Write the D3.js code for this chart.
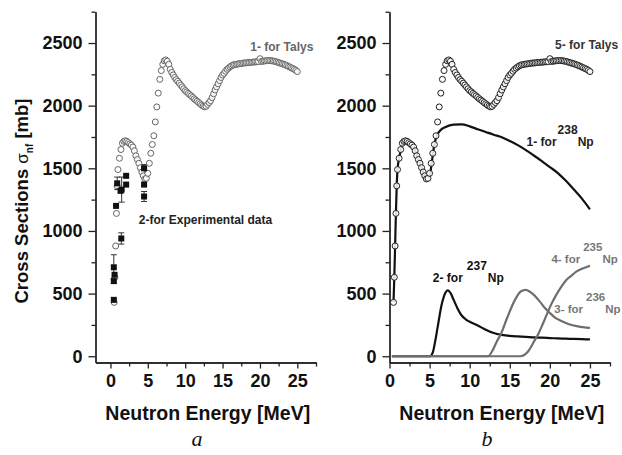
<!DOCTYPE html>
<html><head><meta charset="utf-8">
<script src="https://cdn.jsdelivr.net/npm/d3@7"></script>
<style>body{margin:0;background:#fff}svg{display:block}</style>
</head><body><svg id="c" width="622" height="455"></svg>
<script>
// ---- data ----
const talysE = [
 0.5,0.6,0.7,0.8,0.9,
 1.0,1.2,1.4,1.6,1.8, 2.0,2.2,2.4,2.6,2.8, 3.0,3.2,3.4,3.6,3.8, 4.0,4.2,4.4,4.6,4.8,
 5.0,5.2,5.4,5.6,5.8, 6.0,6.2,6.4,6.6,6.8, 7.0,7.2,7.4,7.6,7.8, 8.0,8.2,8.4,8.6,8.8,
 9.0,9.2,9.4,9.6,9.8, 10.0,10.2,10.4,10.6,10.8, 11.0,11.2,11.4,11.6,11.8, 12.0,12.2,12.4,12.6,12.8,
 13.0,13.2,13.4,13.6,13.8, 14.0,14.2,14.4,14.6,14.8, 15.0,15.2,15.4,15.6,15.8, 16.0,16.2,16.4,16.6,16.8,
 17.0,17.2,17.4,17.6,17.8, 18.0,18.2,18.4,18.6,18.8, 19.0,19.2,19.4,19.6,19.8, 20.0,20.2,20.4,20.6,20.8,
 21.0,21.2,21.4,21.6,21.8, 22.0,22.2,22.4,22.6,22.8, 23.0,23.2,23.4,23.6,23.8, 24.0,24.2,24.4,24.6,24.8,
 25.0];
const talysSigma = [
 430,630,880,1140,1360,
 1490,1580,1650,1700,1715, 1720,1715,1705,1695,1685, 1670,1640,1600,1570,1540, 1505,1470,1440,1415,1420,
 1460,1540,1620,1690,1760, 1870,1990,2100,2210,2280, 2330,2358,2365,2355,2330, 2290,2265,2245,2225,2208,
 2195,2180,2165,2150,2135, 2120,2110,2098,2088,2078, 2066,2055,2045,2035,2025, 2015,2005,1996,1990,1995,
 2010,2025,2040,2065,2095, 2125,2150,2175,2200,2225, 2245,2258,2275,2290,2300, 2310,2318,2324,2328,2330,
 2332,2334,2336,2338,2340, 2341,2342,2344,2345,2346, 2347,2348,2350,2350,2352, 2375,2352,2355,2357,2358,
 2360,2360,2360,2358,2356, 2354,2350,2346,2342,2338, 2334,2330,2325,2320,2314, 2308,2302,2296,2290,2282,
 2272];

const expE     = [0.45,0.45,0.45,0.55,0.75,0.9,1.35,1.5,1.45,2.1,2.1,4.5,4.5,4.5];
const expSigma = [450,600,710,650,1200,1380,1320,1330,940,1440,1370,1500,1370,1275];
const expErr   = [0,20,100,0,0,50,0,100,45,0,0,30,0,40];

const np238E = [0.5,0.6,0.7,0.8,0.9,1.0,1.2,1.5,2.0,2.5,3.0,3.5,4.0,4.5,5.0,5.3,5.6,5.9,6.3,7.0,8.0,9.0,10,11,12,13,14,15,16,17,18,19,20,21,22,23,24,25];
const np238S = [430,630,880,1140,1360,1490,1580,1665,1715,1700,1670,1585,1505,1425,1440,1560,1690,1760,1800,1830,1848,1850,1835,1812,1790,1768,1748,1718,1685,1645,1602,1558,1510,1462,1400,1330,1258,1172];

const np237E = [0.3,5.06,5.4,5.7,6.0,6.5,7.0,7.3,7.6,8.0,8.5,9.0,9.5,10,11,12,13,14,15,16,17,18,19,20,21,22,23,24,25];
const np237S = [0,0,30,120,230,410,510,525,505,450,380,325,295,275,245,212,185,170,162,158,155,150,148,145,142,140,138,136,134];

const np236E = [0.3,12.3,12.8,13.4,13.9,14.7,15.6,16.4,17.0,17.5,18.1,18.7,19.3,20.0,20.6,21.5,22.3,23.5,25];
const np236S = [0,0,40,120,178,311,444,519,530,515,484,440,391,345,311,280,258,238,226];

const np235E = [0.3,16.3,16.8,17.3,17.7,18.0,18.5,19.0,19.4,20.2,20.8,21.4,22.0,22.7,23.3,24.0,24.6,25];
const np235S = [0,0,10,40,80,115,170,240,300,418,490,551,605,644,675,698,712,722];

const yMajor = [0,500,1000,1500,2000,2500];
const yMinor = [250,750,1250,1750,2250,2750];
const xMajor = [0,5,10,15,20,25];
const xMinor = [2.5,7.5,12.5,17.5,22.5,27.5];

// ---- drawing ----
const svg = d3.select("#c");
const FONT = "'Liberation Sans', Arial, sans-serif";
const y = d3.scaleLinear().domain([-50, 2750]).range([362.5, 11.7]);
const xL = d3.scaleLinear().domain([-2, 27.5]).range([95.5, 316]);
const xR = d3.scaleLinear().domain([0, 27.5]).range([389.5, 610]);

function axes(x) {
  const g = svg.append("g");
  const ax = g.append("g").attr("transform", `translate(${x.range()[0]},0)`);
  ax.call(d3.axisLeft(y).tickValues(yMajor).tickFormat(d3.format("d")).tickSize(7).tickPadding(6).tickSizeOuter(0));
  ax.append("g").call(d3.axisLeft(y).tickValues(yMinor).tickSize(4).tickFormat("").tickSizeOuter(0));
  const bx = g.append("g").attr("transform", `translate(0,${y.range()[0]})`);
  bx.call(d3.axisBottom(x).tickValues(xMajor).tickFormat(d3.format("d")).tickSize(6).tickPadding(6).tickSizeOuter(0));
  bx.append("g").call(d3.axisBottom(x).tickValues(xMinor).tickSize(4).tickFormat("").tickSizeOuter(0));
  g.selectAll("path.domain").attr("stroke", "#222").attr("stroke-width", 1.3);
  g.selectAll(".tick line").attr("stroke", "#222").attr("stroke-width", 1.3);
  g.selectAll(".tick text").attr("font-family", FONT).attr("font-weight", "bold")
    .attr("font-size", 18).attr("fill", "#111");
  const xm = (x.range()[0] + x.range()[1]) / 2;
  g.append("text").attr("x", xm + 2).attr("y", 420).attr("text-anchor", "middle")
    .attr("font-family", FONT).attr("font-weight", "bold").attr("font-size", 19.5).attr("fill", "#111")
    .text("Neutron Energy [MeV]");
}
axes(xL);
axes(xR);

// y title
const yt = svg.append("text").attr("transform", "translate(28,201) rotate(-90)")
  .attr("text-anchor", "middle").attr("font-family", FONT).attr("font-weight", "bold")
  .attr("font-size", 18.5).attr("fill", "#111");
yt.append("tspan").text("Cross Sections ");
yt.append("tspan").attr("font-weight", "normal").attr("font-size", 17).text("σ");
yt.append("tspan").attr("font-size", 10).attr("dy", 5).text("nf");
yt.append("tspan").attr("dy", -5).text(" [mb]");

// panel letters
[["a", 197], ["b", 487]].forEach(([t, xx]) => {
  svg.append("text").attr("x", xx).attr("y", 446).attr("text-anchor", "middle")
    .attr("font-family", "'Liberation Serif', 'DejaVu Serif', serif").attr("font-style", "italic")
    .attr("font-size", 22).attr("fill", "#111").text(t);
});

const talys = talysE.map((e, i) => [e, talysSigma[i]]);

// ---- left panel ----
const gl = svg.append("g");
expE.forEach((e, i) => {
  if (expErr[i] > 0) {
    const cx = xL(e);
    gl.append("line").attr("x1", cx).attr("x2", cx).attr("y1", y(expSigma[i] - expErr[i])).attr("y2", y(expSigma[i] + expErr[i]))
      .attr("stroke", "#333").attr("stroke-width", 1);
    [expSigma[i] - expErr[i], expSigma[i] + expErr[i]].forEach(v =>
      gl.append("line").attr("x1", cx - 3).attr("x2", cx + 3).attr("y1", y(v)).attr("y2", y(v))
        .attr("stroke", "#333").attr("stroke-width", 1));
  }
});
gl.selectAll("circle").data(talys).join("circle")
  .attr("cx", d => xL(d[0])).attr("cy", d => y(d[1])).attr("r", 3)
  .attr("fill", "#fff").attr("fill-opacity", 0.85).attr("stroke", "#666").attr("stroke-width", 1);
gl.selectAll("rect").data(expE.map((e, i) => [e, expSigma[i]])).join("rect")
  .attr("x", d => xL(d[0]) - 3).attr("y", d => y(d[1]) - 3).attr("width", 6).attr("height", 6)
  .attr("fill", "#111");
function label(g, x, ex, ey, parts, color, size) {
  const t = g.append("text").attr("x", x(ex)).attr("y", y(ey)).attr("font-family", FONT)
    .attr("font-weight", "bold").attr("font-size", size || 12).attr("fill", color);
  parts.forEach(p => { const s = t.append("tspan").text(p.t); if (p.dy) s.attr("dy", p.dy); if (p.dx) s.attr("dx", p.dx); });
}
label(gl, xL, 18.7, 2436, [{t: "1- for Talys"}], "#666");
label(gl, xL, 3.8, 1059, [{t: "2-for Experimental data"}], "#222");

// ---- right panel ----
const gr = svg.append("g");
const line = x => d3.line().x(d => x(d[0])).y(d => y(d[1])).curve(d3.curveMonotoneX);
gr.append("path").datum(np238E.map((e, i) => [e, np238S[i]])).attr("d", line(xR))
  .attr("fill", "none").attr("stroke", "#111").attr("stroke-width", 2.2);
gr.append("path").datum(np237E.map((e, i) => [e, np237S[i]])).attr("d", line(xR))
  .attr("fill", "none").attr("stroke", "#111").attr("stroke-width", 2.2);
gr.append("path").datum(np236E.map((e, i) => [e, np236S[i]])).attr("d", line(xR))
  .attr("fill", "none").attr("stroke", "#6e6e6e").attr("stroke-width", 2.2);
gr.append("path").datum(np235E.map((e, i) => [e, np235S[i]])).attr("d", line(xR))
  .attr("fill", "none").attr("stroke", "#6e6e6e").attr("stroke-width", 2.2);
gr.selectAll("circle").data(talys).join("circle")
  .attr("cx", d => xR(d[0])).attr("cy", d => y(d[1])).attr("r", 3)
  .attr("fill", "#fff").attr("fill-opacity", 0.85).attr("stroke", "#222").attr("stroke-width", 1);

label(gr, xR, 20.65, 2450, [{t: "5- for Talys"}], "#333");
label(gr, xR, 17.1, 1676, [{t: "1- for"}, {t: "238", dy: -12, dx: 1}, {t: "Np", dy: 12}], "#222");
label(gr, xR, 5.4, 596, [{t: "2- for"}, {t: "237", dy: -12, dx: 4}, {t: "Np", dy: 12, dx: 1}], "#111");
label(gr, xR, 20.2, 748, [{t: "4- for"}, {t: "235", dy: -12, dx: 3}, {t: "Np", dy: 12}], "#777", 11.5);
label(gr, xR, 20.55, 349, [{t: "3- for"}, {t: "236", dy: -12, dx: 3}, {t: "Np", dy: 12}], "#777", 11.5);
</script></body></html>
